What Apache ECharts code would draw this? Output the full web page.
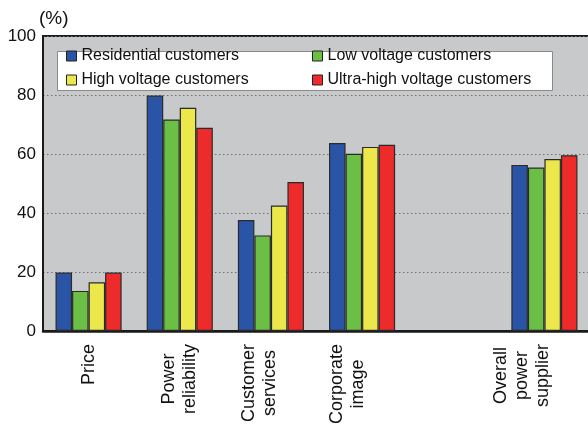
<!DOCTYPE html>
<html>
<head>
<meta charset="utf-8">
<script src="https://cdn.jsdelivr.net/npm/echarts@6/dist/echarts.min.js"></script>
<style>
  html, body { margin: 0; padding: 0; background: #ffffff; }
  #chart { width: 588px; height: 425px; }
</style>
</head>
<body>
<div id="chart"></div>
<script>
// Survey categories (the blank slot separates the overall rating)
var categories = ['Price', 'Power\nreliability', 'Customer\nservices', 'Corporate\nimage', '', 'Overall\npower\nsupplier'];
// Leftward shift of each category label, px
var labelShift = [0, 0, 11, 15, 0, 22];

var seriesNames = ['Residential customers', 'Low voltage customers', 'High voltage customers', 'Ultra-high voltage customers'];
var residential = [19.8, 79.8, 37.6, 63.7, null, 56.3];
var lowVoltage  = [13.6, 71.7, 32.4, 60.1, null, 55.4];
var highVoltage = [16.5, 75.7, 42.5, 62.4, null, 58.3];
var ultraHigh   = [19.8, 68.9, 50.5, 63.1, null, 59.6];

var yTicks = [0, 20, 40, 60, 80, 100];

var colors = ['#2a55a6', '#6cbf45', '#ece84c', '#ec2b2a'];
var FONT = 'Liberation Sans, Arial, Helvetica, sans-serif';
var LABEL_SIZE = 18, LABEL_LH = 21;

var chart = echarts.init(document.getElementById('chart'), null, { renderer: 'canvas' });

// Each category label: lines centred on each other, block anchored at the axis;
// a blank trailing line nudges the block sideways.
var labelRich = {
  c: { align: 'center', fontFamily: FONT, fontSize: LABEL_SIZE, lineHeight: LABEL_LH, color: '#111' }
};
labelShift.forEach(function (s, i) {
  if (s > 0) labelRich['g' + i] = { fontFamily: FONT, fontSize: 2, lineHeight: 2 * s };
});

function formatCategory(value, index) {
  if (!value) return '';
  var lines = value.split('\n').map(function (l) { return '{c|' + l + '}'; });
  if (labelShift[index] > 0) lines.push('{g' + index + '| }');
  return lines.join('\n');
}

function bar(name, data, color) {
  return {
    name: name,
    type: 'bar',
    data: data,
    barGap: '0%',
    barCategoryGap: '27.5%',
    itemStyle: { color: color, borderColor: '#2a2a2a', borderWidth: 1.2 },
    emphasis: { disabled: true }
  };
}

var legendCommon = {
  orient: 'vertical',
  top: 48,
  padding: 0,
  itemWidth: 10,
  itemHeight: 10,
  itemGap: 8,
  icon: 'rect',
  selectedMode: false,
  itemStyle: { borderColor: '#222', borderWidth: 1 },
  textStyle: { fontFamily: FONT, fontSize: 16, lineHeight: 16, color: '#111', padding: [0, 0, 0, 0] }
};

chart.setOption({
  animation: false,
  color: colors,
  textStyle: { fontFamily: FONT },
  grid: {
    left: 43, right: -2, top: 36, bottom: 94,
    outerBoundsMode: 'none',
    show: true, backgroundColor: '#c8c9cb', borderColor: '#1a1a1a', borderWidth: 2,
    containLabel: false
  },
  graphic: [{
    type: 'rect',
    z: 5,
    shape: { x: 57.5, y: 51.5, width: 495, height: 39 },
    style: { fill: '#ffffff', stroke: '#8a8a8a', lineWidth: 1 }
  }],
  legend: [
    Object.assign({ left: 66, data: [seriesNames[0], seriesNames[2]], z: 10 }, legendCommon),
    Object.assign({ left: 312, data: [seriesNames[1], seriesNames[3]], z: 10 }, legendCommon)
  ],
  xAxis: {
    type: 'category',
    data: categories,
    axisLine: { lineStyle: { color: '#1a1a1a', width: 2.5 } },
    axisTick: { inside: true, length: 5, lineStyle: { color: '#1a1a1a', width: 1 } },
    axisLabel: {
      rotate: 90, interval: 0, margin: 13,
      align: 'right', verticalAlign: 'middle',
      fontFamily: FONT, fontSize: LABEL_SIZE, lineHeight: LABEL_LH, color: '#111',
      formatter: formatCategory,
      rich: labelRich
    },
    splitLine: { show: false }
  },
  yAxis: {
    type: 'value',
    min: yTicks[0], max: yTicks[yTicks.length - 1], interval: 20,
    name: '(%)',
    nameLocation: 'end',
    nameGap: 8,
    nameMoveOverlap: false,
    nameTextStyle: {
      fontFamily: FONT, fontSize: 19, lineHeight: 19, color: '#111',
      align: 'left', verticalAlign: 'bottom', padding: [0, 0, 0, -4]
    },
    axisLine: { show: true, lineStyle: { color: '#1a1a1a', width: 2 } },
    axisTick: { show: false },
    axisLabel: { fontFamily: FONT, fontSize: 17, color: '#111', margin: 7 },
    splitLine: { show: true, lineStyle: { color: '#707070', type: [1.5, 2.5], width: 1 } }
  },
  series: [
    bar(seriesNames[0], residential, colors[0]),
    bar(seriesNames[1], lowVoltage, colors[1]),
    bar(seriesNames[2], highVoltage, colors[2]),
    bar(seriesNames[3], ultraHigh, colors[3])
  ]
});
</script>
</body>
</html>
